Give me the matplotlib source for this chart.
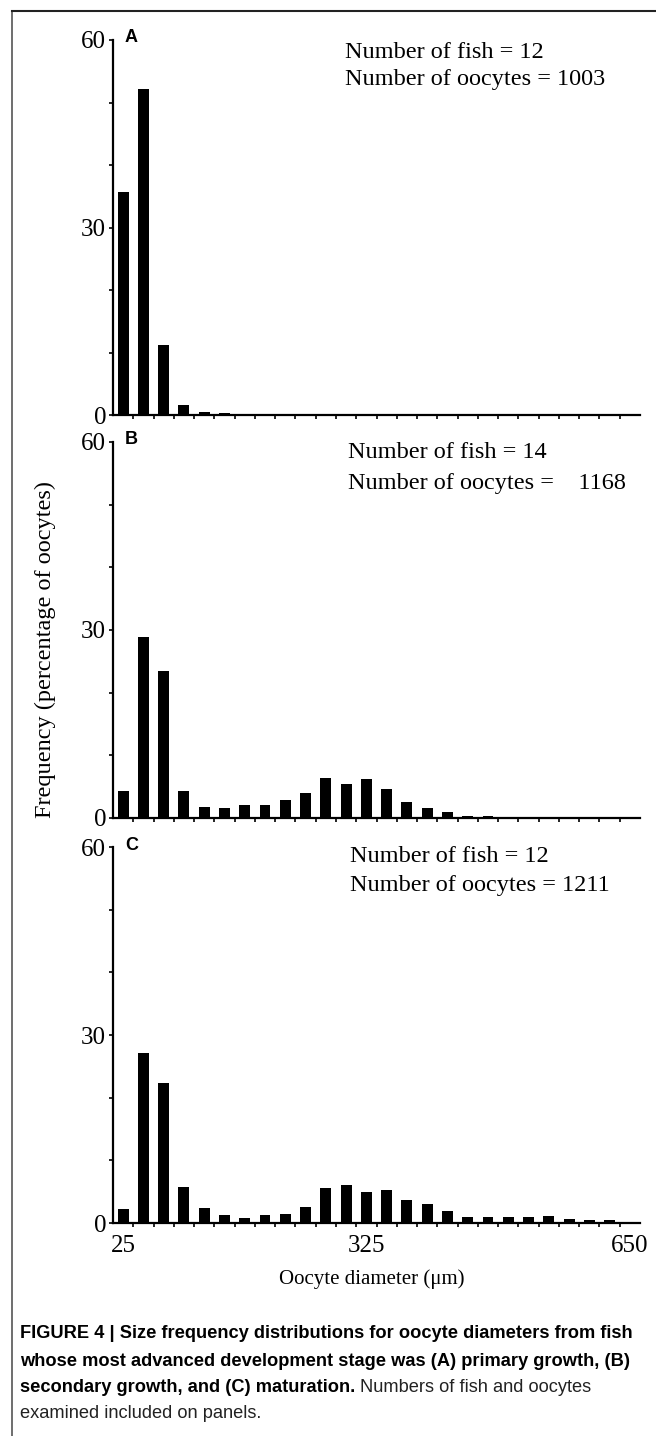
import matplotlib
matplotlib.use('Agg')
import matplotlib.pyplot as plt
from matplotlib.ticker import FixedLocator, NullFormatter
from matplotlib import font_manager

# bin centres (um), 25 um bins
diameters = [25, 50, 75, 100, 125, 150, 175, 200, 225, 250, 275, 300, 325,
             350, 375, 400, 425, 450, 475, 500, 525, 550, 575, 600, 625, 650]

freq_a = [35.7, 52.1, 11.2, 1.55, 0.45, 0.25, 0, 0, 0, 0, 0, 0, 0,
          0, 0, 0, 0, 0, 0, 0, 0, 0, 0, 0, 0, 0]
freq_b = [4.3, 28.9, 23.5, 4.3, 1.75, 1.65, 2.1, 2.0, 2.8, 4.0, 6.4, 5.35, 6.2,
          4.6, 2.5, 1.6, 0.9, 0.3, 0.3, 0, 0, 0, 0, 0, 0, 0]
freq_c = [2.2, 27.2, 22.3, 5.7, 2.4, 1.2, 0.8, 1.2, 1.5, 2.6, 5.6, 6.0, 4.9,
          5.2, 3.7, 3.1, 1.9, 0.9, 0.9, 0.9, 1.0, 1.1, 0.6, 0.5, 0.4, 0.2]

panel_letters = ['A', 'B', 'C']
fish_counts = ['12', '14', '12']
oocyte_counts = ['1003', '   1168', '1211']
x_tick_labels = [25, 325, 650]

caption_lines = [
    'FIGURE 4 | Size frequency distributions for oocyte diameters from fish',
    'whose most advanced development stage was (A) primary growth, (B)',
    'secondary growth, and (C) maturation.',
]
caption_rest = ['Numbers of fish and oocytes', 'examined included on panels.']

W, H = 656, 1436
serif = 'Liberation Serif'
sans = 'Liberation Sans'
names = {f.name for f in font_manager.fontManager.ttflist}
narrow = 'Liberation Sans Narrow' if 'Liberation Sans Narrow' in names else sans


def fx(px):
    return px / W


def fy(py):
    return 1 - py / H


fig = plt.figure(figsize=(W / 100, H / 100), dpi=100)
renderer = fig.canvas.get_renderer()

# frame around figure
fig.add_artist(plt.Line2D([fx(12), fx(12)], [fy(11), 0], color='#555555', lw=1.2))
fig.add_artist(plt.Line2D([fx(12), 1], [fy(11), fy(11)], color='#222222', lw=1.5))

tops = [40, 442, 847]
bottoms = [415, 818, 1223]
series = [freq_a, freq_b, freq_c]
boundaries = [d + 12.5 for d in diameters[:-1]]

for i, vals in enumerate(series):
    ax = fig.add_axes([fx(113), fy(bottoms[i]), fx(640 - 113), (bottoms[i] - tops[i]) / H])
    ax.bar(diameters, vals, width=13.5, color='black')
    ax.set_xlim(12.5, 662.5)
    ax.set_ylim(0, 60)
    for s in ['top', 'right']:
        ax.spines[s].set_visible(False)
    ax.spines['left'].set_linewidth(1.6)
    ax.spines['bottom'].set_linewidth(1.6)

    ax.set_yticks([0, 30, 60])
    ax.yaxis.set_minor_locator(FixedLocator([10, 20, 40, 50]))
    ax.tick_params(axis='y', which='both', direction='out', length=3, width=1.2,
                   labelsize=18, pad=2)
    ax.xaxis.set_minor_locator(FixedLocator(boundaries))
    ax.xaxis.set_minor_formatter(NullFormatter())
    ax.tick_params(axis='x', which='minor', direction='out', length=3, width=1.2)
    ax.set_xticks(x_tick_labels)
    ax.tick_params(axis='x', which='major', length=0, labelsize=18, pad=9)
    if i < 2:
        ax.set_xticklabels([])
    for lab in ax.get_xticklabels() + ax.get_yticklabels():
        lab.set_fontfamily(serif)

    fig.text(fx(125), fy(tops[i] - 2), panel_letters[i], family=sans,
             fontweight='bold', fontsize=13, va='center', ha='left')

ann_pos = [(345, 52, 80), (348, 453, 484), (350, 857, 886)]
for i, (x, y1, y2) in enumerate(ann_pos):
    fig.text(fx(x), fy(y1), f'Number of fish = {fish_counts[i]}', family=serif,
             fontsize=17.5, va='center', ha='left')
    fig.text(fx(x), fy(y2), f'Number of oocytes = {oocyte_counts[i]}', family=serif,
             fontsize=17.5, va='center', ha='left')

fig.text(fx(45), fy(649), 'Frequency (percentage of oocytes)', family=serif,
         fontsize=17.5, rotation=90, va='center', ha='center')
fig.text(fx(372), fy(1279), 'Oocyte diameter (μm)', family=serif,
         fontsize=15, va='center', ha='center')

# caption, sized so the first line spans the same width as the reference
probe = fig.text(0, 0, caption_lines[0], family=narrow, fontweight='bold', fontsize=14)
cap_size = 14 * 614 / probe.get_window_extent(renderer).width
probe.remove()

cap_y = [1334, 1361, 1388, 1414]
for line, y in zip(caption_lines, cap_y):
    last = fig.text(fx(20), fy(y), line, family=narrow, fontweight='bold',
                    fontsize=cap_size, va='center', ha='left')
bb = last.get_window_extent(renderer)
fig.text((bb.x1 + 5) / W, fy(cap_y[2]), caption_rest[0], family=narrow,
         fontsize=cap_size, va='center', ha='left', color='#222222')
fig.text(fx(20), fy(cap_y[3]), caption_rest[1], family=narrow,
         fontsize=cap_size, va='center', ha='left', color='#222222')

fig.savefig('out.png', dpi=100)
